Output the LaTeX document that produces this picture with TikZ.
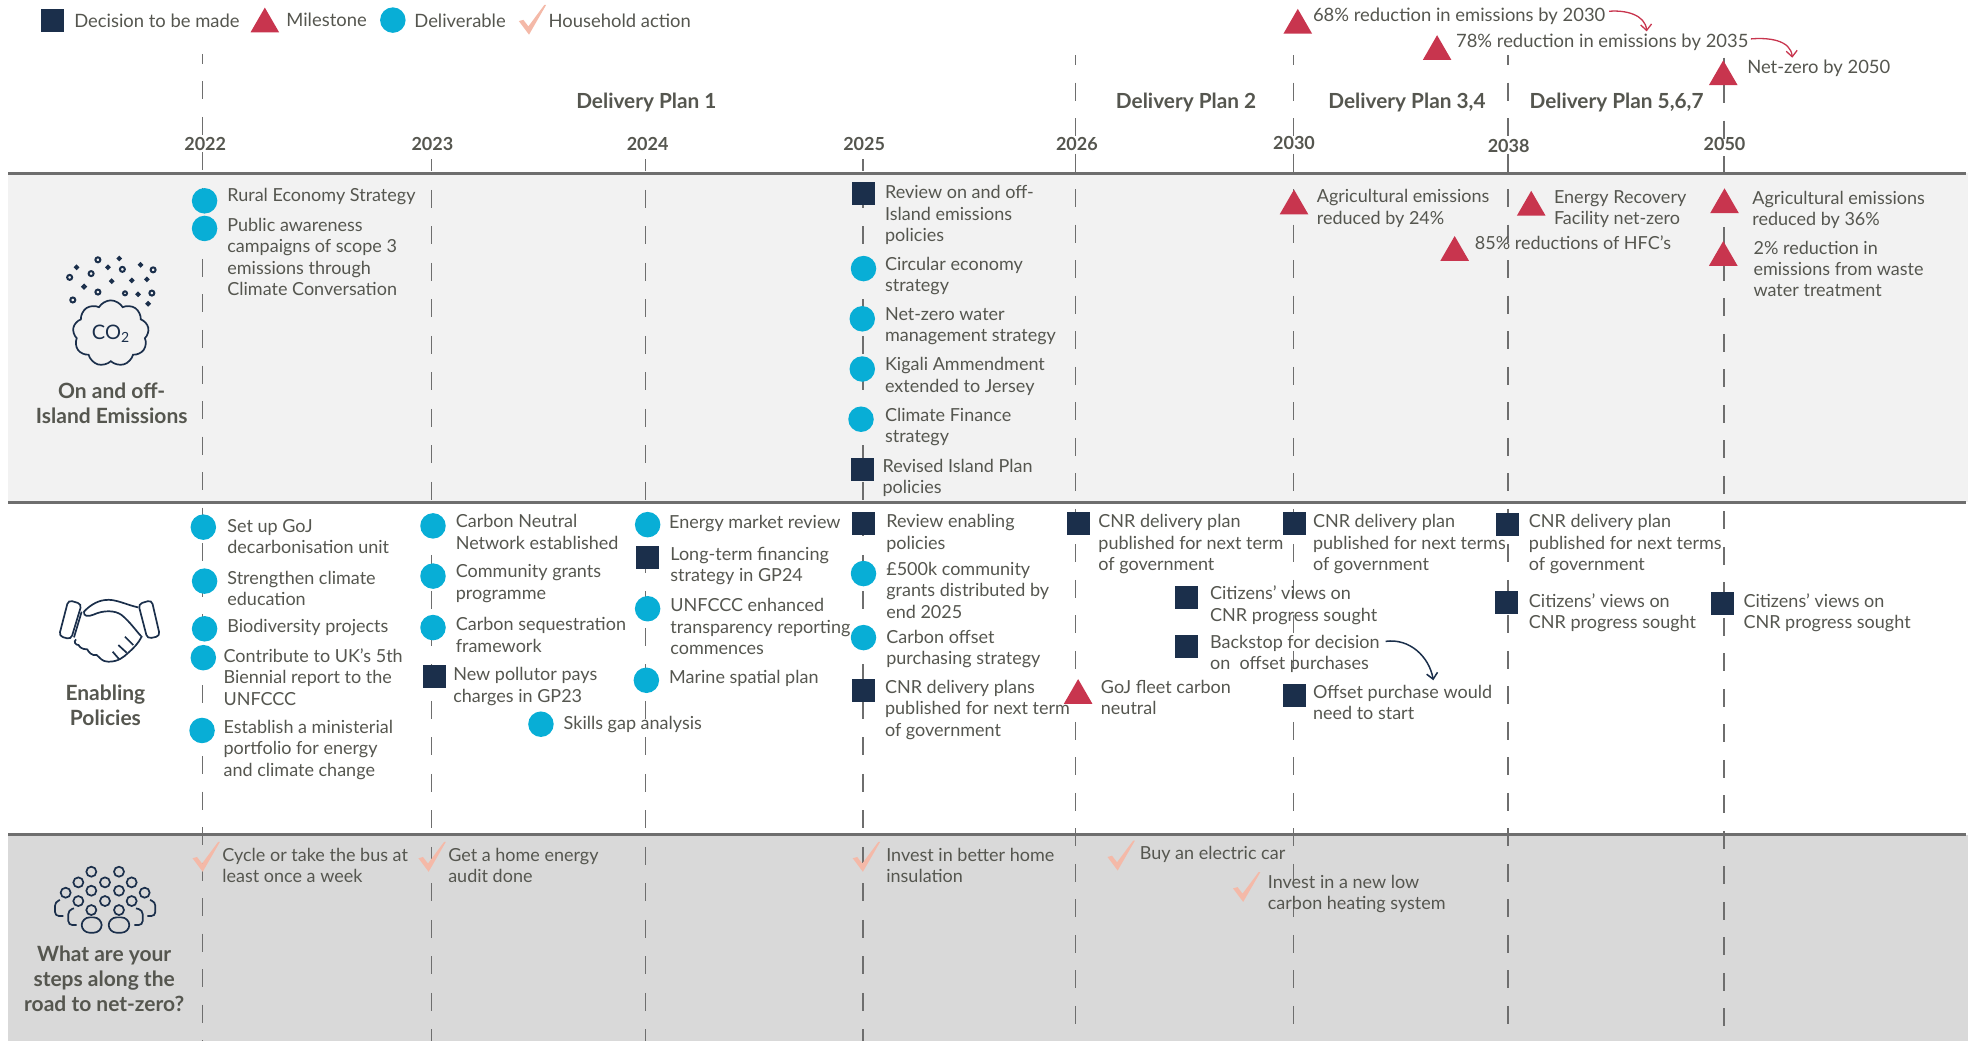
\documentclass[tikz,border=0pt]{standalone}
\usepackage{fontspec}
\setmainfont{Lato}
\usetikzlibrary{shapes}
\usetikzlibrary{positioning}
\usetikzlibrary{arrows.meta}
\definecolor{navyc}{HTML}{1B2F4B}
\definecolor{redc}{HTML}{C8354E}
\definecolor{cyanc}{HTML}{08AED6}
\definecolor{checkc}{HTML}{F4B9A8}
\definecolor{textc}{HTML}{55564F}
\definecolor{ruleC}{HTML}{6E6E6E}
\tikzset{
    decis/.style = {rectangle, fill=navyc, minimum size=23pt, inner sep=0pt},
    deliv/.style = {circle, fill=cyanc, minimum size=25.5pt, inner sep=0pt},
    miles/.style = {regular polygon, regular polygon sides=3, fill=redc, minimum size=33pt, inner sep=0pt, yshift=-4pt},
    txt/.style = {anchor=north west, align=left, inner sep=0pt, yshift=9pt, text=textc, font=\fontsize{18}{21.3}\selectfont, execute at begin node=\strut},
    txl/.style = {txt, yshift=-2.5pt},
    txh/.style = {txt, font=\fontsize{18.4}{21.3}\selectfont},
    head/.style = {align=center, inner sep=0pt, text=textc, font=\fontsize{21}{25}\selectfont\bfseries},
    planlab/.style = {inner sep=0pt, text=textc, font=\fontsize{20.8}{25}\selectfont\bfseries},
    yearlab/.style = {inner sep=0pt, text=textc, font=\fontsize{18}{21}\selectfont\bfseries},
    gridl/.style = {line width=1.4pt, ruleC, dash pattern=on 18pt off 17.5pt, dash phase=8pt},
    gridm/.style = {line width=1.4pt, ruleC, dash pattern=on 18pt off 18.5pt, dash phase=6pt},
    rulel/.style = {line width=3pt, ruleC},
    redarr/.style = {line width=1.3pt, redc, -{Straight Barb[length=6pt,width=11pt]}},
    navarr/.style = {line width=1.5pt, navyc, -{Straight Barb[length=6pt,width=11pt]}},
    icon/.style = {line width=1.7pt, navyc},
    pics/chk/.style = {code={\fill[checkc] (-10.6,0.8) -- (-7,-0.2) -- (-3,5) -- (9.8,-12.2) -- (11.2,-12.2) -- (-2.5,11.6) -- cycle;}}
}
\begin{document}
\begin{tikzpicture}[x=1.255pt,y=-1.255pt]
  \useasboundingbox (0,0) rectangle (1568,829.5);
  % bands
  \fill[fill=black!5] (6.5,138) rectangle (1568,400);
  \fill[fill=black!15] (6.5,665) rectangle (1568,829.5);

  % year lines
  \coordinate (t22) at (161.5,43);   \coordinate (b22) at (161.5,829.5);
  \coordinate (t23) at (344,127);    \coordinate (b23) at (344,829.5);
  \coordinate (t24) at (514.5,127);  \coordinate (b24) at (514.5,829.5);
  \coordinate (t25) at (687.5,127);  \coordinate (b25) at (687.5,829.5);
  \coordinate (t26) at (857,44);     \coordinate (b26) at (857,829.5);
  \coordinate (t30) at (1030.5,44);  \coordinate (b30) at (1030.5,829.5);
  \coordinate (t38) at (1201.5,44);  \coordinate (b38) at (1201.5,829.5);
  \coordinate (t50) at (1373.5,46);  \coordinate (b50) at (1373.5,829.5);
  \draw[gridl] (t22) -- (b22);
  \draw[gridm] (t23) -- (b23);
  \draw[gridm] (t24) -- (b24);
  \draw[gridm] (t25) -- (b25);
  \draw[gridl] (t26) -- (b26);
  \draw[gridl] (t30) -- (b30);
  \draw[gridl] (t38) -- (b38);
  \draw[gridl] (t50) -- (b50);

  % rules
  \coordinate (r1a) at (6.5,138);  \coordinate (r1b) at (1566,138);
  \coordinate (r2a) at (6.5,400);  \coordinate (r2b) at (1566,400);
  \coordinate (r3a) at (6.5,665);  \coordinate (r3b) at (1566,665);
  \draw[rulel] (r1a) -- (r1b);
  \draw[rulel] (r2a) -- (r2b);
  \draw[rulel] (r3a) -- (r3b);

  % legend
  \node[decis] (lg1) at (42,16) {};
  \node[txh] (lgt1) at (59,17) {Decision to be made};
  \node[miles] (lg2) at (211,16) {};
  \node[txh] (lgt2) at (228,16) {Milestone};
  \node[deliv] (lg3) at (313,16) {};
  \node[txh] (lgt3) at (330,17) {Deliverable};
  \pic (lg4) at (424,16) {chk};
  \node[txh] (lgt4) at (437,17) {Household action};

  % top milestones
  \node[miles] (top1) at (1034,17) {};
  \node[txh] (topt1) at (1046,12) {68\% reduction in emissions by 2030};
  \node[miles] (top2) at (1145,38) {};
  \node[txh] (topt2) at (1160,33) {78\% reduction in emissions by 2035};
  \node[miles] (top3) at (1373,58) {};
  \node[txh] (topt3) at (1392,54) {Net-zero by 2050};
  \coordinate (ar1a) at (1282,9);   \coordinate (ar1b) at (1312,25);
  \coordinate (ar2a) at (1395,31);  \coordinate (ar2b) at (1428,46);
  \draw[redarr] (ar1a) to[out=5,in=95] (ar1b);
  \draw[redarr] (ar2a) to[out=5,in=95] (ar2b);

  % plans and years
  \node[planlab] (dp1) at (515,81.5) {Delivery Plan 1};
  \node[planlab] (dp2) at (945,81.5) {Delivery Plan 2};
  \node[planlab] (dp3) at (1121,81.5) {Delivery Plan 3,4};
  \node[planlab] (dp4) at (1288,81.5) {Delivery Plan 5,6,7};
  \node[yearlab] (y22) at (163.5,115) {2022};
  \node[yearlab] (y23) at (344.5,115) {2023};
  \node[yearlab] (y24) at (516,115) {2024};
  \node[yearlab] (y25) at (688.5,115) {2025};
  \node[yearlab] (y26) at (858,115) {2026};
  \node[yearlab] (y30) at (1031,114) {2030};
  \node[yearlab] (y38) at (1202,116) {2038};
  \node[yearlab] (y50) at (1374,115) {2050};

  % on and off-island emissions
  \node[head] (sec1) at (89,321) {On and off-\\Island Emissions};
  \node[cloud, cloud puffs=9, cloud puff arc=120, aspect=1.15, draw=navyc, line width=1.7pt, minimum width=76pt, minimum height=66pt, inner sep=0pt, text=navyc, font=\fontsize{20}{22}\selectfont] (co2) at (88.3,265.6) {CO\textsubscript{2}};
  \draw[icon,line width=2pt] (78,207) circle (2) (95,206) circle (1.2) (61,213) circle (1.2) (86,213) circle (1.2)
    (97.5,214.6) circle (2) (112,211) circle (1.2) (122,215) circle (2) (55.5,221) circle (2) (72.6,218) circle (2)
    (89,224) circle (1.2) (105,223.4) circle (1.2) (117,222.6) circle (1.2) (67,228.4) circle (1.4) (78,232.7) circle (2)
    (99.6,233.7) circle (1.6) (110,234.5) circle (1.2) (121,233.5) circle (2) (58,239) circle (2) (118,242) circle (1.2);

  \node[deliv] (e1) at (163,160) {};
  \node[txt] (et1) at (181,156) {Rural Economy Strategy};
  \node[deliv] (e2) at (163,182) {};
  \node[txl] (et2) at (181,179) {Public awareness\\campaigns of scope 3\\emissions through\\Climate Conversation};
  \node[decis] (e3) at (688,154) {};
  \node[txl] (et3) at (705,153) {Review on and off-\\Island emissions\\policies};
  \node[deliv] (e4) at (688,214) {};
  \node[txl] (et4) at (705,210) {Circular economy\\strategy};
  \node[deliv] (e5) at (687,254) {};
  \node[txl] (et5) at (705,250) {Net-zero water\\management strategy};
  \node[deliv] (e6) at (687,294) {};
  \node[txl] (et6) at (705,290) {Kigali Ammendment\\extended to Jersey};
  \node[deliv] (e7) at (686,334) {};
  \node[txl] (et7) at (705,330) {Climate Finance\\strategy};
  \node[decis] (e8) at (687,374) {};
  \node[txl] (et8) at (703,371) {Revised Island Plan\\policies};
  \node[miles] (e9) at (1031,161) {};
  \node[txl] (et9) at (1049,156) {Agricultural emissions\\reduced by 24\%};
  \node[miles] (e10) at (1220,162) {};
  \node[txl] (et10) at (1238,157) {Energy Recovery\\Facility net-zero};
  \node[miles] (e11) at (1159,198) {};
  \node[txt] (et11) at (1175,194) {85\% reductions of HFC’s};
  \node[miles] (e12) at (1374,160) {};
  \node[txl] (et12) at (1396,157) {Agricultural emissions\\reduced by 36\%};
  \node[miles] (e13) at (1373,202) {};
  \node[txl] (et13) at (1397,197) {2\% reduction in\\emissions from waste\\water treatment};

  % enabling policies
  \node[head] (sec2) at (84,562) {Enabling\\Policies};
  \begin{scope}[shift={(0,462.15)},x=0.3333pt,y=-0.3333pt]
    \draw[icon,rounded corners=4pt] (205,60) -- (245,72) -- (213,178) -- (177,168) -- cycle;
    \draw[icon,rounded corners=4pt] (415,72) -- (455,60) -- (480,168) -- (442,176) -- cycle;
    \draw[icon] (415,82) .. controls (380,75) and (345,55) .. (315,60) .. controls (290,62) and (265,80) .. (252,95)
      .. controls (250,110) and (265,110) .. (280,104) .. controls (310,90) and (345,90) .. (365,105)
      .. controls (390,125) and (410,155) .. (425,170) .. controls (415,190) and (400,205) .. (385,218)
      .. controls (370,232) and (355,245) .. (325,245) .. controls (305,245) and (300,232) .. (290,225)
      .. controls (275,228) and (265,215) .. (262,208) .. controls (245,208) and (238,200) .. (236,195)
      .. controls (226,195) and (220,185) .. (228,178);
    \draw[icon] (245,95) -- (222,172);
    \draw[icon] (338,215) -- (358,238) (355,195) -- (380,218) (375,170) -- (400,195);
  \end{scope}

  \node[deliv] (p1) at (162,420) {};
  \node[txl] (pt1) at (181,419) {Set up GoJ\\decarbonisation unit};
  \node[deliv] (p2) at (163,463) {};
  \node[txl] (pt2) at (181,460) {Strengthen climate\\education};
  \node[deliv] (p3) at (163,501) {};
  \node[txt] (pt3) at (181,499) {Biodiversity projects};
  \node[deliv] (p4) at (162,524) {};
  \node[txl] (pt4) at (178,522) {Contribute to UK’s 5th\\Biennial report to the\\UNFCCC};
  \node[deliv] (p5) at (161,582) {};
  \node[txl] (pt5) at (178,579) {Establish a ministerial\\portfolio for energy\\and climate change};
  \node[deliv] (p6) at (345,419) {};
  \node[txl] (pt6) at (363,415) {Carbon Neutral\\Network established};
  \node[deliv] (p7) at (345,459) {};
  \node[txl] (pt7) at (363,455) {Community grants\\programme};
  \node[deliv] (p8) at (345,500) {};
  \node[txl] (pt8) at (363,497) {Carbon sequestration\\framework};
  \node[decis] (p9) at (346,539) {};
  \node[txl] (pt9) at (361,537) {New pollutor pays\\charges in GP23};
  \node[deliv] (p10) at (431,577) {};
  \node[txt] (pt10) at (449,576) {Skills gap analysis};
  \node[deliv] (p11) at (516,418) {};
  \node[txt] (pt11) at (533,416) {Energy market review};
  \node[decis] (p12) at (516,444) {};
  \node[txl] (pt12) at (534,441) {Long-term financing\\strategy in GP24};
  \node[deliv] (p13) at (516,485) {};
  \node[txl] (pt13) at (534,482) {UNFCCC enhanced\\transparency reporting\\commences};
  \node[deliv] (p14) at (515,542) {};
  \node[txt] (pt14) at (533,540) {Marine spatial plan};
  \node[decis] (p15) at (688,417) {};
  \node[txl] (pt15) at (706,415) {Review enabling\\policies};
  \node[deliv] (p16) at (688,457) {};
  \node[txl] (pt16) at (706,453) {£500k community\\grants distributed by\\end 2025};
  \node[deliv] (p17) at (688,508) {};
  \node[txl] (pt17) at (706,507) {Carbon offset\\purchasing strategy};
  \node[decis] (p18) at (688,550) {};
  \node[txl] (pt18) at (705,547) {CNR delivery plans\\published for next term\\of government};
  \node[decis] (p19) at (859,417) {};
  \node[txl] (pt19) at (875,415) {CNR delivery plan\\published for next term\\of government};
  \node[miles] (p20) at (859,551) {};
  \node[txl] (pt20) at (877,547) {GoJ fleet carbon\\neutral};
  \node[decis] (p21) at (945,476) {};
  \node[txl] (pt21) at (964,472) {Citizens’ views on\\CNR progress sought};
  \node[decis] (p22) at (945,515) {};
  \node[txl] (pt22) at (964,511) {Backstop for decision\\on~~offset purchases};
  \node[decis] (p23) at (1031,417) {};
  \node[txl] (pt23) at (1046,415) {CNR delivery plan\\published for next terms\\of government};
  \node[decis] (p24) at (1031,554) {};
  \node[txl] (pt24) at (1046,551) {Offset purchase would\\need to start};
  \node[decis] (p25) at (1201,418) {};
  \node[txl] (pt25) at (1218,415) {CNR delivery plan\\published for next terms\\of government};
  \node[decis] (p26) at (1200,480) {};
  \node[txl] (pt26) at (1218,478) {Citizens’ views on\\CNR progress sought};
  \node[decis] (p27) at (1372,481) {};
  \node[txl] (pt27) at (1389,478) {Citizens’ views on\\CNR progress sought};
  \coordinate (ar3a) at (1104,511);  \coordinate (ar3b) at (1142,542);
  \draw[navarr] (ar3a) to[out=8,in=100] (ar3b);

  % household steps
  \node[head] (sec3) at (83,780) {What are your\\steps along the\\road to net-zero?};
  \begin{scope}[shift={(0,462.15)},x=0.3333pt,y=-0.3333pt]
    \draw[icon] (274,875) circle (15) (357,875) circle (15) (235,907) circle (15) (315,907) circle (15) (395,907) circle (15)
      (197,938) circle (15) (274,932) circle (15) (357,932) circle (15) (434,938) circle (15) (235,963) circle (15)
      (315,963) circle (15) (395,963) circle (15) (274,990) circle (15) (357,990) circle (15);
    \draw[icon,rounded corners=8pt] (245,1058) -- (245,1012) -- (305,1012) -- (305,1058) -- cycle;
    \draw[icon,rounded corners=8pt] (326,1058) -- (326,1012) -- (388,1012) -- (388,1058) -- cycle;
    \draw[icon,rounded corners=4pt] (222,985) -- (205,990) -- (205,1035) -- (230,1035);
    \draw[icon,rounded corners=4pt] (408,985) -- (428,990) -- (428,1035) -- (403,1035);
    \draw[icon,rounded corners=4pt] (180,960) -- (165,965) -- (165,1008) -- (190,1008);
    \draw[icon,rounded corners=4pt] (450,960) -- (466,965) -- (466,1008) -- (442,1008);
  \end{scope}

  \pic (h1) at (164,683) {chk};
  \node[txl] (ht1) at (177,681) {Cycle or take the bus at\\least once a week};
  \pic (h2) at (344,683) {chk};
  \node[txl] (ht2) at (357,681) {Get a home energy\\audit done};
  \pic (h3) at (690,683) {chk};
  \node[txl] (ht3) at (706,681) {Invest in better home\\insulation};
  \pic (h4) at (893,682) {chk};
  \node[txt] (ht4) at (908,680) {Buy an electric car};
  \pic (h5) at (993,707) {chk};
  \node[txl] (ht5) at (1010,702) {Invest in a new low\\carbon heating system};
\end{tikzpicture}
\end{document}
